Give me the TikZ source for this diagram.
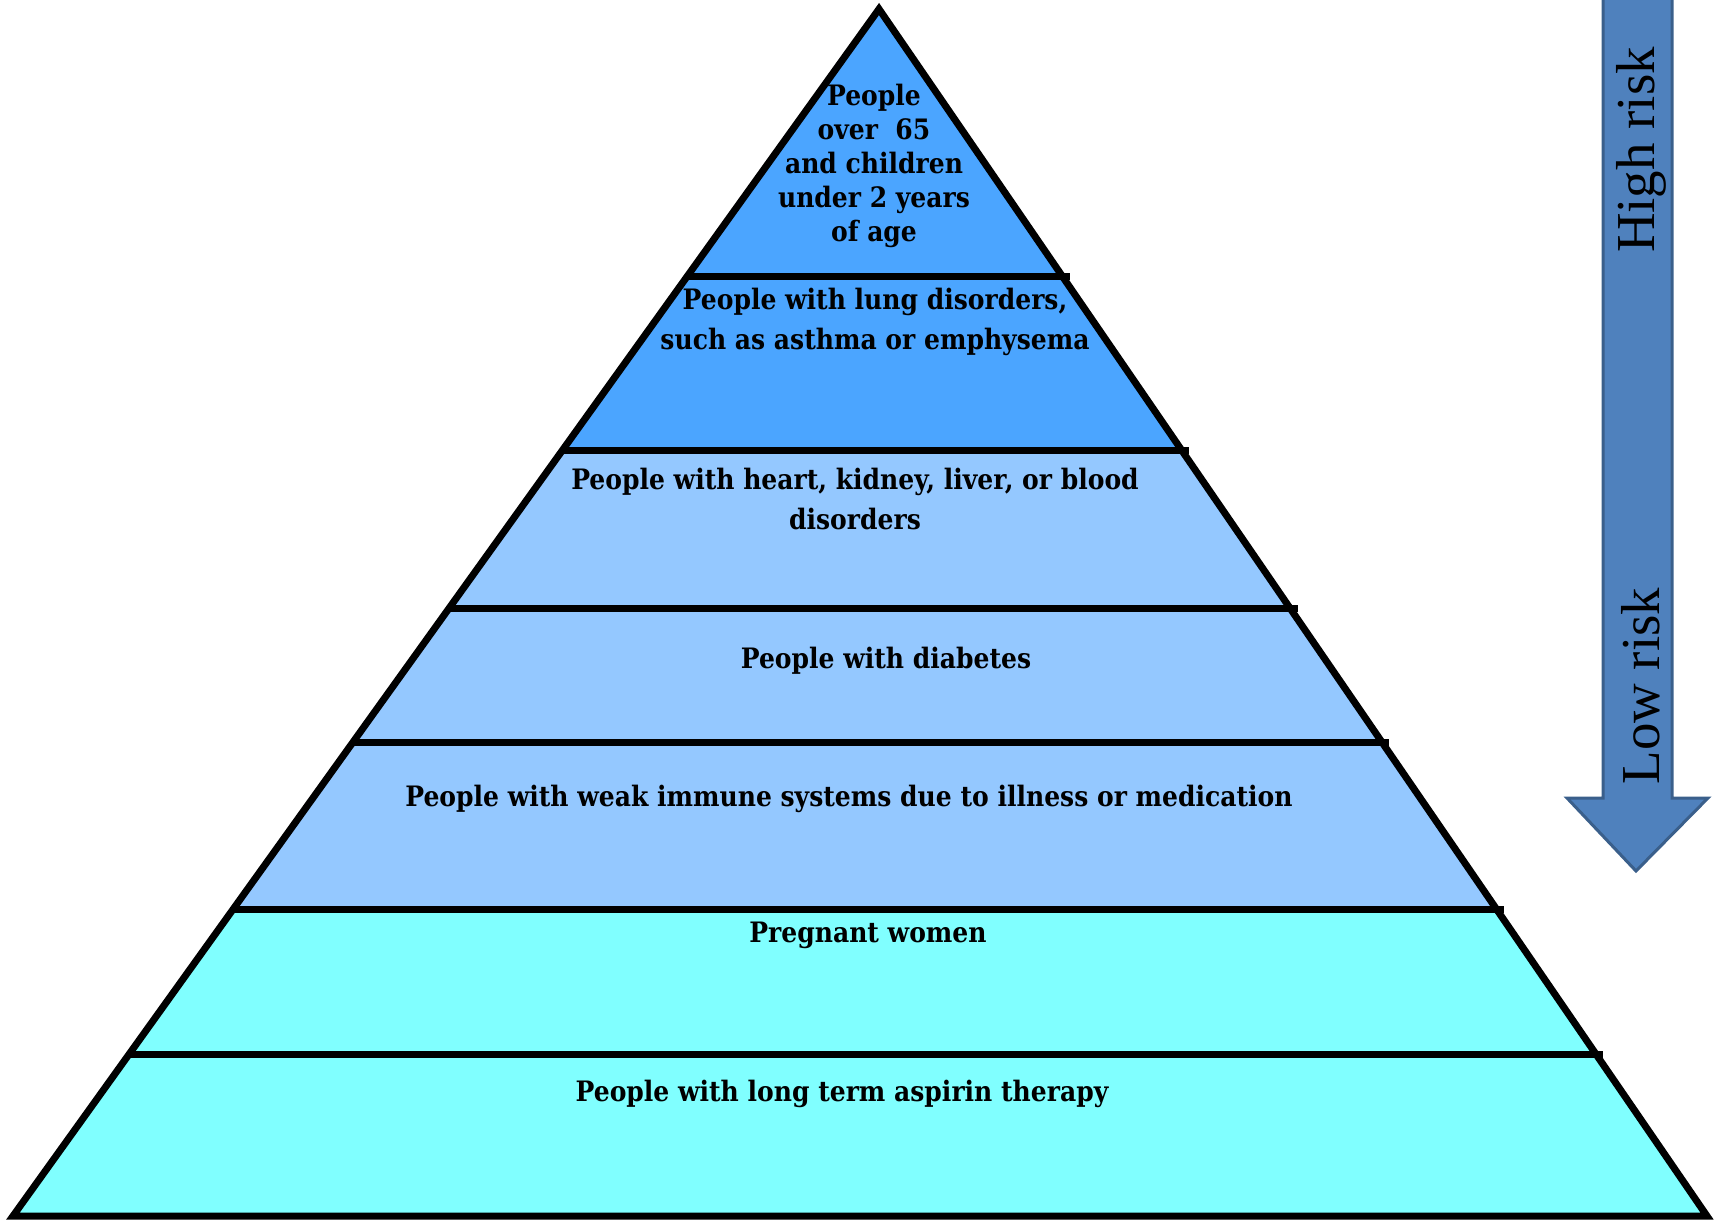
\documentclass[tikz,border=0pt]{standalone}
\usepackage{fontspec}
\usetikzlibrary{calc}
\newfontfamily\bandfont{DejaVu Serif}[FakeStretch=0.89]
\newfontfamily\riskfont{Liberation Serif}
\definecolor{darkband}{HTML}{4BA5FF}
\definecolor{midband}{HTML}{94C8FF}
\definecolor{lowband}{HTML}{80FFFF}
\definecolor{riskfill}{HTML}{4F81BD}
\definecolor{riskline}{HTML}{3A5F8B}

\begin{document}
\begin{tikzpicture}[x=0.01cm, y=-0.01cm,
    band/.style={align=center, font=\bandfont\bfseries\fontsize{8}{11.4}\selectfont, inner sep=0pt},
    level/.style={line width=0.07cm, shorten >=-0.07cm},
    risk/.style={rotate=90, font=\riskfont\fontsize{15.6}{18}\selectfont, inner sep=0pt}]
    \useasboundingbox (0,0) rectangle (1714,1220);
    \clip (0,0) rectangle (1714,1220);

    % Corners of the pyramid
    \coordinate (apex) at (879,9);
    \coordinate (bl) at (13,1216);
    \coordinate (br) at (1707,1216);

    % Level lines
    \coordinate (l1) at ($(apex)!0.222!(bl)$); \coordinate (r1) at ($(apex)!0.222!(br)$);
    \coordinate (l2) at ($(apex)!0.366!(bl)$); \coordinate (r2) at ($(apex)!0.366!(br)$);
    \coordinate (l3) at ($(apex)!0.497!(bl)$); \coordinate (r3) at ($(apex)!0.497!(br)$);
    \coordinate (l4) at ($(apex)!0.608!(bl)$); \coordinate (r4) at ($(apex)!0.608!(br)$);
    \coordinate (l5) at ($(apex)!0.746!(bl)$); \coordinate (r5) at ($(apex)!0.746!(br)$);
    \coordinate (l6) at ($(apex)!0.866!(bl)$); \coordinate (r6) at ($(apex)!0.866!(br)$);

    % Bands
    \fill[darkband] (apex) -- (r2) -- (l2) -- cycle;
    \fill[midband] (l2) -- (r2) -- (r5) -- (l5) -- cycle;
    \fill[lowband] (l5) -- (r5) -- (br) -- (bl) -- cycle;

    % Outline
    \draw[line width=0.07cm, line join=miter] (apex) -- (br) -- (bl) -- cycle;
    \draw[level] (l1) -- (r1);
    \draw[level] (l2) -- (r2);
    \draw[level] (l3) -- (r3);
    \draw[level] (l4) -- (r4);
    \draw[level] (l5) -- (r5);
    \draw[level] (l6) -- (r6);

    % Texts
    \node[band, font=\bandfont\bfseries\fontsize{8}{9.7}\selectfont] (old) at (874,166) {People\\over~~65\\and children\\under 2 years\\of age};
    \node[band] (lung) at (875,322) {People with lung disorders,\\such as asthma or emphysema};
    \node[band] (heart) at (855,499) {People with heart, kidney, liver, or blood\\disorders};
    \node[band] (diabetes) at (886,661) {People with diabetes};
    \node[band] (immune) at (849,799) {People with weak immune systems due to illness or medication};
    \node[band] (pregnant) at (868,935) {Pregnant women};
    \node[band] (aspirin) at (842,1094) {People with long term aspirin therapy};

    % Risk arrow
    \draw[riskline, fill=riskfill, line width=0.03cm] (1603,-10) -- (1672,-10) -- (1672,798) -- (1708,798)
        -- (1636,871) -- (1567,798) -- (1603,798) -- cycle;
    \node[risk] (high) at (1641,150) {High risk};
    \node[risk] (low) at (1641,686) {Low risk};

\end{tikzpicture}
\end{document}
